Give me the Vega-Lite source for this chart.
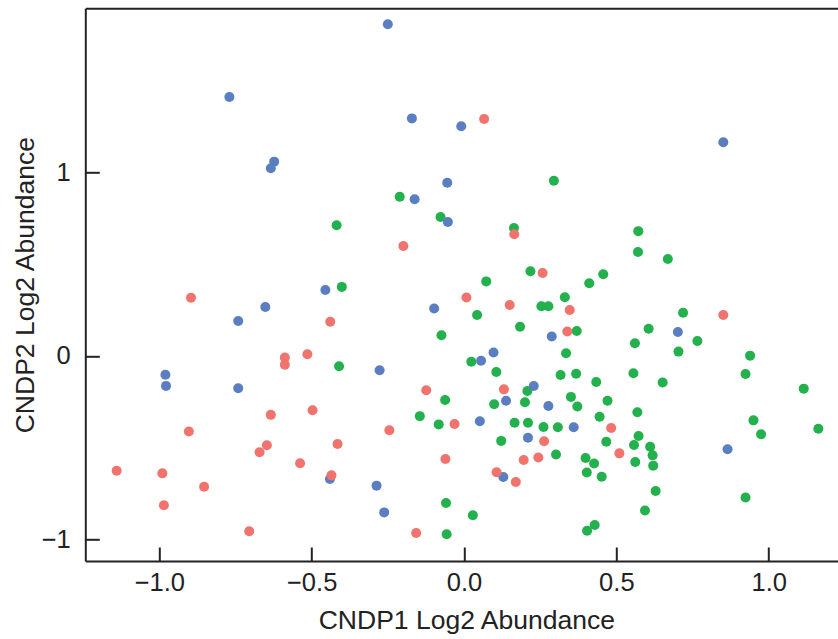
{
  "$schema": "https://vega.github.io/schema/vega-lite/v6.json",
  "width": 752.7,
  "height": 552.7,
  "autosize": {"type": "none"},
  "padding": {"left": 85.3, "top": 8.3, "right": 0, "bottom": 78},
  "background": "white",
  "config": {
    "view": {"stroke": null},
    "font": "Liberation Sans",
    "axis": {"grid": false, "domainColor": "#222222", "domainWidth": 2, "tickColor": "#222222", "tickWidth": 2, "labelColor": "#222222", "titleColor": "#222222", "titleFontWeight": "normal"}
  },
  "data": {
    "values": [
      {"cndp1": 0.295, "cndp2": 0.956, "group": "Cluster 1"},
      {"cndp1": -0.211, "cndp2": 0.869, "group": "Cluster 1"},
      {"cndp1": -0.418, "cndp2": 0.713, "group": "Cluster 1"},
      {"cndp1": -0.401, "cndp2": 0.377, "group": "Cluster 1"},
      {"cndp1": -0.077, "cndp2": 0.758, "group": "Cluster 1"},
      {"cndp1": 0.164, "cndp2": 0.698, "group": "Cluster 1"},
      {"cndp1": 0.572, "cndp2": 0.681, "group": "Cluster 1"},
      {"cndp1": 0.571, "cndp2": 0.567, "group": "Cluster 1"},
      {"cndp1": 0.669, "cndp2": 0.529, "group": "Cluster 1"},
      {"cndp1": 0.218, "cndp2": 0.462, "group": "Cluster 1"},
      {"cndp1": 0.457, "cndp2": 0.446, "group": "Cluster 1"},
      {"cndp1": 0.411, "cndp2": 0.397, "group": "Cluster 1"},
      {"cndp1": 0.073, "cndp2": 0.407, "group": "Cluster 1"},
      {"cndp1": 0.331, "cndp2": 0.320, "group": "Cluster 1"},
      {"cndp1": 0.254, "cndp2": 0.271, "group": "Cluster 1"},
      {"cndp1": 0.277, "cndp2": 0.271, "group": "Cluster 1"},
      {"cndp1": 0.043, "cndp2": 0.224, "group": "Cluster 1"},
      {"cndp1": 0.719, "cndp2": 0.236, "group": "Cluster 1"},
      {"cndp1": -0.074, "cndp2": 0.113, "group": "Cluster 1"},
      {"cndp1": 0.184, "cndp2": 0.160, "group": "Cluster 1"},
      {"cndp1": 0.370, "cndp2": 0.136, "group": "Cluster 1"},
      {"cndp1": 0.606, "cndp2": 0.149, "group": "Cluster 1"},
      {"cndp1": 0.561, "cndp2": 0.070, "group": "Cluster 1"},
      {"cndp1": 0.335, "cndp2": 0.015, "group": "Cluster 1"},
      {"cndp1": 0.024, "cndp2": -0.031, "group": "Cluster 1"},
      {"cndp1": 0.766, "cndp2": 0.082, "group": "Cluster 1"},
      {"cndp1": 0.704, "cndp2": 0.024, "group": "Cluster 1"},
      {"cndp1": 0.939, "cndp2": 0.002, "group": "Cluster 1"},
      {"cndp1": 0.106, "cndp2": -0.087, "group": "Cluster 1"},
      {"cndp1": 0.317, "cndp2": -0.104, "group": "Cluster 1"},
      {"cndp1": 0.368, "cndp2": -0.097, "group": "Cluster 1"},
      {"cndp1": 0.556, "cndp2": -0.094, "group": "Cluster 1"},
      {"cndp1": 0.434, "cndp2": -0.142, "group": "Cluster 1"},
      {"cndp1": 0.652, "cndp2": -0.145, "group": "Cluster 1"},
      {"cndp1": 0.924, "cndp2": -0.098, "group": "Cluster 1"},
      {"cndp1": 1.115, "cndp2": -0.178, "group": "Cluster 1"},
      {"cndp1": 0.208, "cndp2": -0.191, "group": "Cluster 1"},
      {"cndp1": -0.062, "cndp2": -0.240, "group": "Cluster 1"},
      {"cndp1": 0.099, "cndp2": -0.263, "group": "Cluster 1"},
      {"cndp1": 0.200, "cndp2": -0.252, "group": "Cluster 1"},
      {"cndp1": 0.351, "cndp2": -0.223, "group": "Cluster 1"},
      {"cndp1": 0.372, "cndp2": -0.275, "group": "Cluster 1"},
      {"cndp1": 0.471, "cndp2": -0.244, "group": "Cluster 1"},
      {"cndp1": -0.145, "cndp2": -0.328, "group": "Cluster 1"},
      {"cndp1": -0.083, "cndp2": -0.373, "group": "Cluster 1"},
      {"cndp1": 0.166, "cndp2": -0.364, "group": "Cluster 1"},
      {"cndp1": 0.210, "cndp2": -0.364, "group": "Cluster 1"},
      {"cndp1": 0.261, "cndp2": -0.387, "group": "Cluster 1"},
      {"cndp1": 0.308, "cndp2": -0.389, "group": "Cluster 1"},
      {"cndp1": 0.445, "cndp2": -0.331, "group": "Cluster 1"},
      {"cndp1": 0.569, "cndp2": -0.307, "group": "Cluster 1"},
      {"cndp1": 0.950, "cndp2": -0.351, "group": "Cluster 1"},
      {"cndp1": 0.975, "cndp2": -0.427, "group": "Cluster 1"},
      {"cndp1": 1.163, "cndp2": -0.397, "group": "Cluster 1"},
      {"cndp1": 0.122, "cndp2": -0.463, "group": "Cluster 1"},
      {"cndp1": 0.302, "cndp2": -0.537, "group": "Cluster 1"},
      {"cndp1": 0.467, "cndp2": -0.468, "group": "Cluster 1"},
      {"cndp1": 0.573, "cndp2": -0.436, "group": "Cluster 1"},
      {"cndp1": 0.558, "cndp2": -0.485, "group": "Cluster 1"},
      {"cndp1": 0.611, "cndp2": -0.495, "group": "Cluster 1"},
      {"cndp1": 0.619, "cndp2": -0.542, "group": "Cluster 1"},
      {"cndp1": 0.399, "cndp2": -0.556, "group": "Cluster 1"},
      {"cndp1": 0.427, "cndp2": -0.586, "group": "Cluster 1"},
      {"cndp1": 0.403, "cndp2": -0.635, "group": "Cluster 1"},
      {"cndp1": 0.452, "cndp2": -0.659, "group": "Cluster 1"},
      {"cndp1": 0.562, "cndp2": -0.578, "group": "Cluster 1"},
      {"cndp1": 0.621, "cndp2": -0.598, "group": "Cluster 1"},
      {"cndp1": 0.629, "cndp2": -0.736, "group": "Cluster 1"},
      {"cndp1": 0.594, "cndp2": -0.843, "group": "Cluster 1"},
      {"cndp1": 0.924, "cndp2": -0.772, "group": "Cluster 1"},
      {"cndp1": -0.059, "cndp2": -0.802, "group": "Cluster 1"},
      {"cndp1": 0.029, "cndp2": -0.869, "group": "Cluster 1"},
      {"cndp1": -0.057, "cndp2": -0.972, "group": "Cluster 1"},
      {"cndp1": 0.429, "cndp2": -0.922, "group": "Cluster 1"},
      {"cndp1": 0.404, "cndp2": -0.953, "group": "Cluster 1"},
      {"cndp1": -0.410, "cndp2": -0.056, "group": "Cluster 1"},
      {"cndp1": -0.250, "cndp2": 1.809, "group": "Cluster 2"},
      {"cndp1": -0.770, "cndp2": 1.413, "group": "Cluster 2"},
      {"cndp1": -0.171, "cndp2": 1.296, "group": "Cluster 2"},
      {"cndp1": -0.009, "cndp2": 1.253, "group": "Cluster 2"},
      {"cndp1": -0.623, "cndp2": 1.060, "group": "Cluster 2"},
      {"cndp1": -0.634, "cndp2": 1.024, "group": "Cluster 2"},
      {"cndp1": 0.851, "cndp2": 1.166, "group": "Cluster 2"},
      {"cndp1": -0.162, "cndp2": 0.855, "group": "Cluster 2"},
      {"cndp1": -0.055, "cndp2": 0.945, "group": "Cluster 2"},
      {"cndp1": -0.053, "cndp2": 0.731, "group": "Cluster 2"},
      {"cndp1": -0.652, "cndp2": 0.267, "group": "Cluster 2"},
      {"cndp1": -0.741, "cndp2": 0.191, "group": "Cluster 2"},
      {"cndp1": -0.455, "cndp2": 0.360, "group": "Cluster 2"},
      {"cndp1": -0.098, "cndp2": 0.259, "group": "Cluster 2"},
      {"cndp1": -0.980, "cndp2": -0.102, "group": "Cluster 2"},
      {"cndp1": -0.978, "cndp2": -0.163, "group": "Cluster 2"},
      {"cndp1": -0.741, "cndp2": -0.176, "group": "Cluster 2"},
      {"cndp1": -0.277, "cndp2": -0.078, "group": "Cluster 2"},
      {"cndp1": -0.440, "cndp2": -0.671, "group": "Cluster 2"},
      {"cndp1": -0.287, "cndp2": -0.707, "group": "Cluster 2"},
      {"cndp1": -0.262, "cndp2": -0.853, "group": "Cluster 2"},
      {"cndp1": 0.288, "cndp2": 0.106, "group": "Cluster 2"},
      {"cndp1": 0.097, "cndp2": 0.019, "group": "Cluster 2"},
      {"cndp1": 0.056, "cndp2": -0.026, "group": "Cluster 2"},
      {"cndp1": 0.229, "cndp2": -0.164, "group": "Cluster 2"},
      {"cndp1": 0.138, "cndp2": -0.244, "group": "Cluster 2"},
      {"cndp1": 0.277, "cndp2": -0.273, "group": "Cluster 2"},
      {"cndp1": 0.052, "cndp2": -0.356, "group": "Cluster 2"},
      {"cndp1": 0.360, "cndp2": -0.389, "group": "Cluster 2"},
      {"cndp1": 0.210, "cndp2": -0.446, "group": "Cluster 2"},
      {"cndp1": 0.129, "cndp2": -0.660, "group": "Cluster 2"},
      {"cndp1": 0.702, "cndp2": 0.131, "group": "Cluster 2"},
      {"cndp1": 0.865, "cndp2": -0.509, "group": "Cluster 2"},
      {"cndp1": 0.066, "cndp2": 1.293, "group": "Cluster 3"},
      {"cndp1": -0.199, "cndp2": 0.600, "group": "Cluster 3"},
      {"cndp1": -0.896, "cndp2": 0.318, "group": "Cluster 3"},
      {"cndp1": -0.439, "cndp2": 0.187, "group": "Cluster 3"},
      {"cndp1": 0.165, "cndp2": 0.664, "group": "Cluster 3"},
      {"cndp1": 0.258, "cndp2": 0.453, "group": "Cluster 3"},
      {"cndp1": 0.008, "cndp2": 0.319, "group": "Cluster 3"},
      {"cndp1": 0.150, "cndp2": 0.278, "group": "Cluster 3"},
      {"cndp1": 0.347, "cndp2": 0.251, "group": "Cluster 3"},
      {"cndp1": 0.851, "cndp2": 0.224, "group": "Cluster 3"},
      {"cndp1": 0.339, "cndp2": 0.134, "group": "Cluster 3"},
      {"cndp1": -0.588, "cndp2": -0.008, "group": "Cluster 3"},
      {"cndp1": -0.588, "cndp2": -0.048, "group": "Cluster 3"},
      {"cndp1": -0.514, "cndp2": 0.010, "group": "Cluster 3"},
      {"cndp1": -0.634, "cndp2": -0.321, "group": "Cluster 3"},
      {"cndp1": -0.497, "cndp2": -0.296, "group": "Cluster 3"},
      {"cndp1": -0.903, "cndp2": -0.412, "group": "Cluster 3"},
      {"cndp1": -0.245, "cndp2": -0.405, "group": "Cluster 3"},
      {"cndp1": -0.647, "cndp2": -0.487, "group": "Cluster 3"},
      {"cndp1": -0.671, "cndp2": -0.525, "group": "Cluster 3"},
      {"cndp1": -0.415, "cndp2": -0.480, "group": "Cluster 3"},
      {"cndp1": -0.538, "cndp2": -0.585, "group": "Cluster 3"},
      {"cndp1": -1.140, "cndp2": -0.626, "group": "Cluster 3"},
      {"cndp1": -0.990, "cndp2": -0.640, "group": "Cluster 3"},
      {"cndp1": -0.853, "cndp2": -0.713, "group": "Cluster 3"},
      {"cndp1": -0.985, "cndp2": -0.814, "group": "Cluster 3"},
      {"cndp1": -0.705, "cndp2": -0.956, "group": "Cluster 3"},
      {"cndp1": -0.157, "cndp2": -0.965, "group": "Cluster 3"},
      {"cndp1": -0.435, "cndp2": -0.651, "group": "Cluster 3"},
      {"cndp1": -0.124, "cndp2": -0.187, "group": "Cluster 3"},
      {"cndp1": -0.031, "cndp2": -0.371, "group": "Cluster 3"},
      {"cndp1": -0.061, "cndp2": -0.562, "group": "Cluster 3"},
      {"cndp1": 0.131, "cndp2": -0.182, "group": "Cluster 3"},
      {"cndp1": 0.263, "cndp2": -0.465, "group": "Cluster 3"},
      {"cndp1": 0.196, "cndp2": -0.567, "group": "Cluster 3"},
      {"cndp1": 0.244, "cndp2": -0.554, "group": "Cluster 3"},
      {"cndp1": 0.107, "cndp2": -0.634, "group": "Cluster 3"},
      {"cndp1": 0.170, "cndp2": -0.687, "group": "Cluster 3"},
      {"cndp1": 0.483, "cndp2": -0.393, "group": "Cluster 3"},
      {"cndp1": 0.510, "cndp2": -0.531, "group": "Cluster 3"}
    ]
  },
  "layer": [
    {
      "mark": {"type": "point", "filled": true, "size": 100, "opacity": 1},
      "encoding": {
        "x": {
          "field": "cndp1", "type": "quantitative",
          "scale": {"domain": [-1.2429, 1.2275], "nice": false, "zero": false},
          "axis": {"orient": "bottom", "values": [-1, -0.5, 0, 0.5, 1], "format": ".1f", "tickSize": -14, "labelPadding": 23, "labelFontSize": 25.5, "title": "CNDP1 Log2 Abundance", "titleFontSize": 26.5, "titleX": 381, "titleY": 67, "titleBaseline": "alphabetic", "titleAnchor": "middle", "titleAlign": "center"}
        },
        "y": {
          "field": "cndp2", "type": "quantitative",
          "scale": {"domain": [-1.1181, 1.8964], "nice": false, "zero": false},
          "axis": {"orient": "left", "values": [-1, 0, 1], "format": "d", "tickSize": -14, "labelPadding": 29, "labelFontSize": 25.5, "title": "CNDP2 Log2 Abundance", "titleFontSize": 26.5, "titleX": -46, "titleY": 276.4, "titleAngle": -90, "titleBaseline": "bottom", "titleAlign": "center"}
        },
        "color": {
          "field": "group", "type": "nominal",
          "scale": {"domain": ["Cluster 1", "Cluster 2", "Cluster 3"], "range": ["#22B14C", "#5B7EC2", "#F1736D"]},
          "legend": null
        }
      }
    },
    {
      "mark": {"type": "point", "opacity": 0},
      "encoding": {
        "x": {"field": "cndp1", "type": "quantitative", "axis": {"orient": "top", "labels": false, "ticks": false, "title": null, "domain": true}}
      }
    }
  ]
}
